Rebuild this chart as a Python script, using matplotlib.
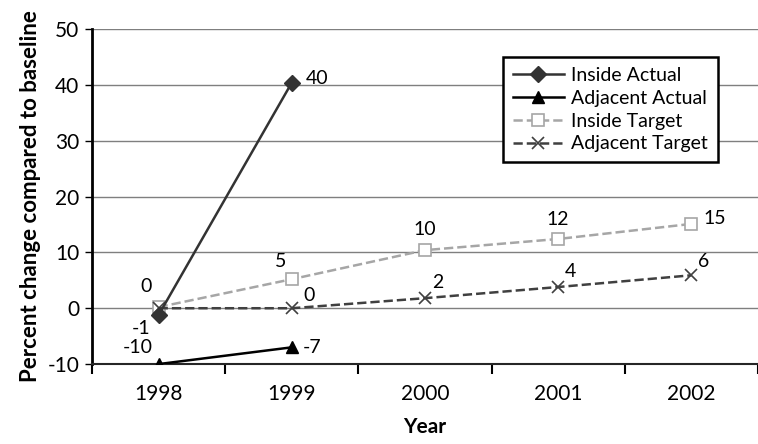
import numpy as np
import matplotlib
matplotlib.use('Agg')
import matplotlib.pyplot as plt

plt.rcParams['font.family'] = ['Lato', 'DejaVu Sans']
plt.rcParams['axes.unicode_minus'] = False

years = ['1998', '1999', '2000', '2001', '2002']
inside_actual = [-1.2, 40.4]
adjacent_actual = [-10, -7]
inside_target = [0.2, 5.2, 10.4, 12.4, 15.1]
adjacent_target = [0, 0, 1.8, 3.8, 5.9]

x = np.arange(len(years))

fig = plt.figure(figsize=(7.58, 4.44), dpi=100)
ax = fig.add_axes([0.1214, 0.180, 0.8786, 0.7547])

# gridlines
ax.set_ylim(-10, 50)
ax.set_xlim(-0.5, len(years) - 0.5)
ax.set_yticks(np.arange(-10, 51, 10))
ax.yaxis.grid(True, color='#7f7f7f', linewidth=1)
ax.set_axisbelow(True)

ax.plot(x[:5], inside_target, '--', color='#a6a6a6', linewidth=1.8, marker='s',
        markersize=8, markerfacecolor='white', markeredgecolor='#a6a6a6',
        markeredgewidth=1.2, label='Inside Target', zorder=3)
ax.plot(x[:5], adjacent_target, '--', color='#404040', linewidth=1.8, marker='x',
        markersize=8, markeredgewidth=1.2, label='Adjacent Target', zorder=3)
ax.plot(x[:2], inside_actual, '-', color='#333333', linewidth=1.8, marker='D',
        markersize=8, label='Inside Actual', zorder=4)
ax.plot(x[:2], adjacent_actual, '-', color='black', linewidth=1.8, marker='^',
        markersize=9, label='Adjacent Actual', zorder=4)

fs = 14
def lab(xi, yi, dx, dy, ha='center'):
    ax.annotate(f'{round(yi):d}', (xi, yi), xytext=(dx, dy), textcoords='offset points',
                ha=ha, va='center', fontsize=fs, zorder=5)

# inside actual
lab(x[0], inside_actual[0], -13, -10)
lab(x[1], inside_actual[1], 10, 3, ha='left')
# adjacent actual
lab(x[0], adjacent_actual[0], -15, 12)
lab(x[1], adjacent_actual[1], 8, 0, ha='left')
# inside target
lab(x[0], inside_target[0], -9, 15)
lab(x[1], inside_target[1], -8, 13)
lab(x[2], inside_target[2], 0, 15)
lab(x[3], inside_target[3], 0, 14)
lab(x[4], inside_target[4], 9, 4, ha='left')
# adjacent target
lab(x[1], adjacent_target[1], 8, 9, ha='left')
lab(x[2], adjacent_target[2], 5, 11, ha='left')
lab(x[3], adjacent_target[3], 5, 11, ha='left')
lab(x[4], adjacent_target[4], 5, 10, ha='left')

# axes styling
for s in ['top', 'right']:
    ax.spines[s].set_visible(False)
ax.spines['left'].set_linewidth(2)
ax.spines['bottom'].set_linewidth(1.5)
ax.spines['bottom'].set_color('#262626')

ax.set_xticks(x)
ax.set_xticklabels(years, fontsize=15)
ax.set_xticks(np.arange(-0.5, len(years), 1), minor=True)
ax.tick_params(axis='x', which='major', length=0, pad=14)
ax.tick_params(axis='x', which='minor', length=7, width=1.5, direction='out')
ax.tick_params(axis='y', length=5, width=1, labelsize=15, pad=4)

ax.set_xlabel('Year', fontsize=15, fontweight='bold', labelpad=10)
ax.set_ylabel('Percent change compared to baseline', fontsize=16, fontweight='bold', labelpad=5)

handles, labels = ax.get_legend_handles_labels()
order = [2, 3, 0, 1]
leg = ax.legend([handles[i] for i in order], [labels[i] for i in order],
                loc='upper left', bbox_to_anchor=(0.603, 0.945), fontsize=14,
                frameon=True, fancybox=False, edgecolor='black', framealpha=1,
                handlelength=2.6, handletextpad=0.4, labelspacing=0.3,
                borderpad=0.5)
leg.get_frame().set_linewidth(1.8)

fig.savefig('out.png', dpi=100)
